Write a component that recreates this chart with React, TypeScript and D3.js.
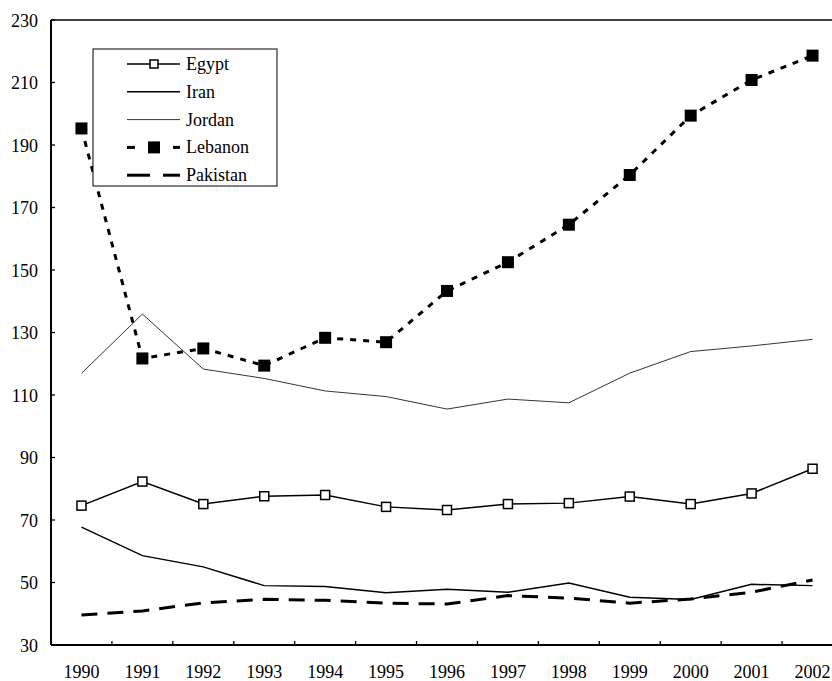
import React from "react";
import * as d3 from "d3";

const years = ["1990","1991","1992","1993","1994","1995","1996","1997","1998","1999","2000","2001","2002"];
const egypt = [74.6, 82.3, 75.1, 77.6, 78.0, 74.2, 73.2, 75.1, 75.4, 77.5, 75.1, 78.5, 86.4];
const iran = [67.7, 58.6, 55.0, 49.0, 48.7, 46.7, 47.8, 46.9, 49.8, 45.3, 44.6, 49.4, 49.0];
const jordan = [116.9, 135.9, 118.3, 115.3, 111.3, 109.5, 105.5, 108.7, 107.5, 117.0, 123.9, 125.7, 127.8];
const lebanon = [195.3, 121.7, 124.9, 119.4, 128.3, 126.9, 143.3, 152.5, 164.5, 180.4, 199.4, 210.8, 218.6];
const pakistan = [39.6, 40.9, 43.5, 44.6, 44.3, 43.4, 43.1, 45.8, 45.0, 43.4, 44.7, 46.9, 50.8];
const yTicks = [30, 50, 70, 90, 110, 130, 150, 170, 190, 210, 230];
const legendNames = ["Egypt", "Iran", "Jordan", "Lebanon", "Pakistan"];

const W = 832, H = 681;
const left = 51, top = 20, bottom = 645, right = 843;
const FONT = "Liberation Serif, DejaVu Serif, serif";

export default function App() {
  const x = d3.scaleBand<string>().domain(years).range([left, right]).paddingInner(0).paddingOuter(0);
  const y = d3.scaleLinear().domain([30, 230]).range([bottom, top]);
  const cx = (i: number) => (x(years[i]) as number) + x.bandwidth() / 2;
  const line = d3.line<number>().x((_, i) => cx(i)).y((d) => y(d));

  const series = [
    { name: "Egypt", data: egypt, width: 1.5, dash: "" },
    { name: "Iran", data: iran, width: 1.5, dash: "" },
    { name: "Jordan", data: jordan, width: 0.8, dash: "" },
    { name: "Lebanon", data: lebanon, width: 3, dash: "6,7" },
    { name: "Pakistan", data: pakistan, width: 3, dash: "16,10" },
  ];

  const legX = 93, legY = 49, legW = 184, legH = 137;
  const legRowY = (i: number) => 64 + i * 27.8;
  const txt = { fontFamily: FONT, fontSize: "18px" } as React.CSSProperties;

  return (
    <svg width={W} height={H} style={{ position: "absolute", left: 0, top: 0, display: "block", fontFamily: FONT }}>
      <rect x={0} y={0} width={W} height={H} fill="white" />
      <line x1={left} x2={W} y1={top} y2={top} stroke="#000" strokeWidth={1.3} />
      <line x1={left} x2={left} y1={top} y2={bottom} stroke="#000" strokeWidth={2} />
      <line x1={left} x2={W} y1={bottom} y2={bottom} stroke="#000" strokeWidth={2} />
      {yTicks.map((t) => (
        <g key={"y" + t}>
          <line x1={left} x2={left + 4} y1={y(t)} y2={y(t)} stroke="#000" strokeWidth={1.3} />
          <text x={38} y={y(t) + 6.5} textAnchor="end" style={txt}>{t}</text>
        </g>
      ))}
      {years.map((yr, i) => (
        <g key={"x" + yr}>
          {i > 0 && (
            <line x1={x(yr) as number} x2={x(yr) as number} y1={bottom} y2={bottom - 4} stroke="#000" strokeWidth={1.3} />
          )}
          <text x={cx(i)} y={678} textAnchor="middle" style={txt}>{yr}</text>
        </g>
      ))}
      {series.map((s) => (
        <path key={s.name} d={line(s.data) as string} fill="none" stroke="#000" strokeWidth={s.width} strokeDasharray={s.dash || undefined} />
      ))}
      {egypt.map((v, i) => (
        <rect key={"e" + i} x={cx(i) - 4.5} y={y(v) - 4.5} width={9} height={9} fill="white" stroke="#000" strokeWidth={1.5} />
      ))}
      {lebanon.map((v, i) => (
        <rect key={"l" + i} x={cx(i) - 6} y={y(v) - 6} width={12} height={12} fill="#000" />
      ))}
      <rect x={legX} y={legY} width={legW} height={legH} fill="white" stroke="#000" strokeWidth={1} />
      {series.map((s, i) => {
        const ly = legRowY(i);
        return (
          <g key={"leg" + s.name}>
            {s.name === "Lebanon" ? (
              <g>
                <line x1={127} x2={135} y1={ly} y2={ly} stroke="#000" strokeWidth={3} />
                <rect x={148} y={ly - 6} width={12} height={12} fill="#000" />
                <line x1={173} x2={180} y1={ly} y2={ly} stroke="#000" strokeWidth={3} />
              </g>
            ) : s.name === "Pakistan" ? (
              <g>
                <line x1={127} x2={150} y1={ly} y2={ly} stroke="#000" strokeWidth={3} />
                <line x1={163} x2={180} y1={ly} y2={ly} stroke="#000" strokeWidth={3} />
              </g>
            ) : (
              <line x1={127} x2={180} y1={ly} y2={ly} stroke="#000" strokeWidth={s.width} />
            )}
            {s.name === "Egypt" && (
              <rect x={150} y={ly - 4} width={8} height={8} fill="white" stroke="#000" strokeWidth={1.5} />
            )}
            <text x={186} y={ly + 6} style={txt}>{legendNames[i]}</text>
          </g>
        );
      })}
    </svg>
  );
}
